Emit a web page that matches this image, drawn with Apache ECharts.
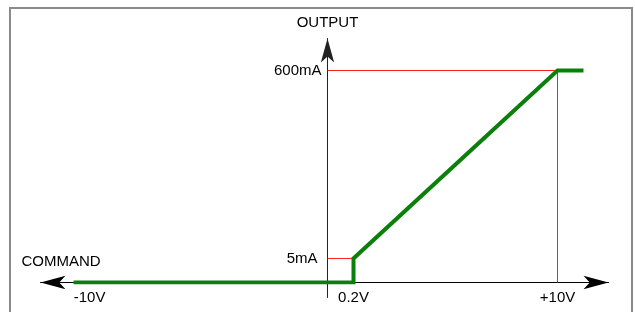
<!DOCTYPE html>
<html>
<head>
<meta charset="utf-8">
<script src="https://cdn.jsdelivr.net/npm/echarts@6/dist/echarts.min.js"></script>
<style>
  html, body { margin: 0; padding: 0; background: #fff; }
  #main { width: 635px; height: 312px; }
</style>
</head>
<body>
<div id="main"></div>
<script>
// schematic, not to scale: positions as drawn (x: 1 unit = 1/10 of the 0..+10V span)
const cmdPos = [-11.04, 1.13, 1.13, 10, 11.13]
const outPos = [0, 0, 68, 600, 600]
const xTickPos = [-11.04, 1.13, 10]
const xTickLabels = ['-10V', '0.2V', '+10V']
const yTickPos = [68, 600]
const yTickLabels = ['5mA', '600mA']

const font = "'Liberation Sans', Arial, sans-serif"
const txt = { fontFamily: font, fontSize: 15, color: '#000' }
const red = '#ff2020'
const chart = echarts.init(document.getElementById('main'))

const option = {
  animation: false,
  grid: [
    // plot + command axis (bottom edge = zero output)
    { left: 40.5, right: 26.5, top: 38.5, bottom: 29.5, containLabel: false, outerBoundsMode: 'none' },
    // output axis, starting at zero command
    { left: 327.5, right: 26.5, top: 38.5, bottom: 14.5, containLabel: false, outerBoundsMode: 'none' }
  ],
  xAxis: [
    {
      gridIndex: 0,
      type: 'value',
      min: -12.478,
      max: 12.217,
      name: 'COMMAND',
      nameLocation: 'start',
      nameGap: 19,
      nameMoveOverlap: false,
      nameTextStyle: Object.assign({}, txt, {
        align: 'left', verticalAlign: 'bottom', padding: [0, 0, 13, 0]
      }),
      axisLine: {
        onZero: false,
        symbol: ['arrow', 'arrow'],
        symbolSize: [10, 25],
        lineStyle: { color: '#000', width: 1 }
      },
      axisTick: { show: false },
      splitLine: { show: false },
      axisLabel: Object.assign({}, txt, {
        customValues: xTickPos,
        margin: 8,
        formatter: v => {
          const i = xTickPos.indexOf(v)
          if (i === 0) return '{l|' + xTickLabels[i] + '}'
          return i >= 0 ? xTickLabels[i] : ''
        },
        rich: { l: Object.assign({}, txt, { padding: [0, 0, 0, 32] }) }
      })
    },
    { gridIndex: 1, type: 'value', min: 0, max: 1, show: false }
  ],
  yAxis: [
    { gridIndex: 0, type: 'value', min: 0, max: 690.6, show: false },
    {
      gridIndex: 1,
      type: 'value',
      min: -42.45,
      max: 690.6,
      name: 'OUTPUT',
      nameLocation: 'end',
      nameGap: 8,
      nameMoveOverlap: false,
      nameTextStyle: txt,
      axisLine: {
        onZero: false,
        symbol: ['none', 'arrow'],
        symbolSize: [10, 24],
        lineStyle: { color: '#222', width: 1 }
      },
      axisTick: { show: false },
      splitLine: { show: false },
      axisLabel: Object.assign({}, txt, {
        customValues: yTickPos,
        margin: 6,
        formatter: v => {
          const i = yTickPos.indexOf(v)
          if (i === 0) return '{s|' + yTickLabels[i] + '}'
          return i >= 0 ? yTickLabels[i] : ''
        },
        rich: { s: Object.assign({}, txt, { padding: [0, 4, 0, 0] }) }
      })
    }
  ],
  graphic: [{
    type: 'rect',
    shape: { x: 10, y: 8, width: 622, height: 320 },
    style: { fill: 'none', stroke: '#8a8a8a', lineWidth: 2 },
    silent: true
  }],
  series: [
    {
      // red guide: 600mA level and +10V drop
      type: 'line',
      xAxisIndex: 0, yAxisIndex: 0,
      z: 1, silent: true, showSymbol: false,
      data: [[0, outPos[3]], [cmdPos[3], outPos[3]], [cmdPos[3], 0]],
      lineStyle: { color: red, width: 1 }
    },
    {
      // red guide: 5mA level
      type: 'line',
      xAxisIndex: 0, yAxisIndex: 0,
      z: 1, silent: true, showSymbol: false,
      data: [[0, outPos[2]], [cmdPos[2], outPos[2]]],
      lineStyle: { color: red, width: 1 }
    },
    {
      type: 'line',
      xAxisIndex: 0, yAxisIndex: 0,
      z: 5, showSymbol: false,
      data: cmdPos.map((x, i) => [x, outPos[i]]),
      lineStyle: { color: '#0a800a', width: 4, cap: 'butt', join: 'miter' }
    }
  ]
}
chart.setOption(option)
</script>
</body>
</html>
